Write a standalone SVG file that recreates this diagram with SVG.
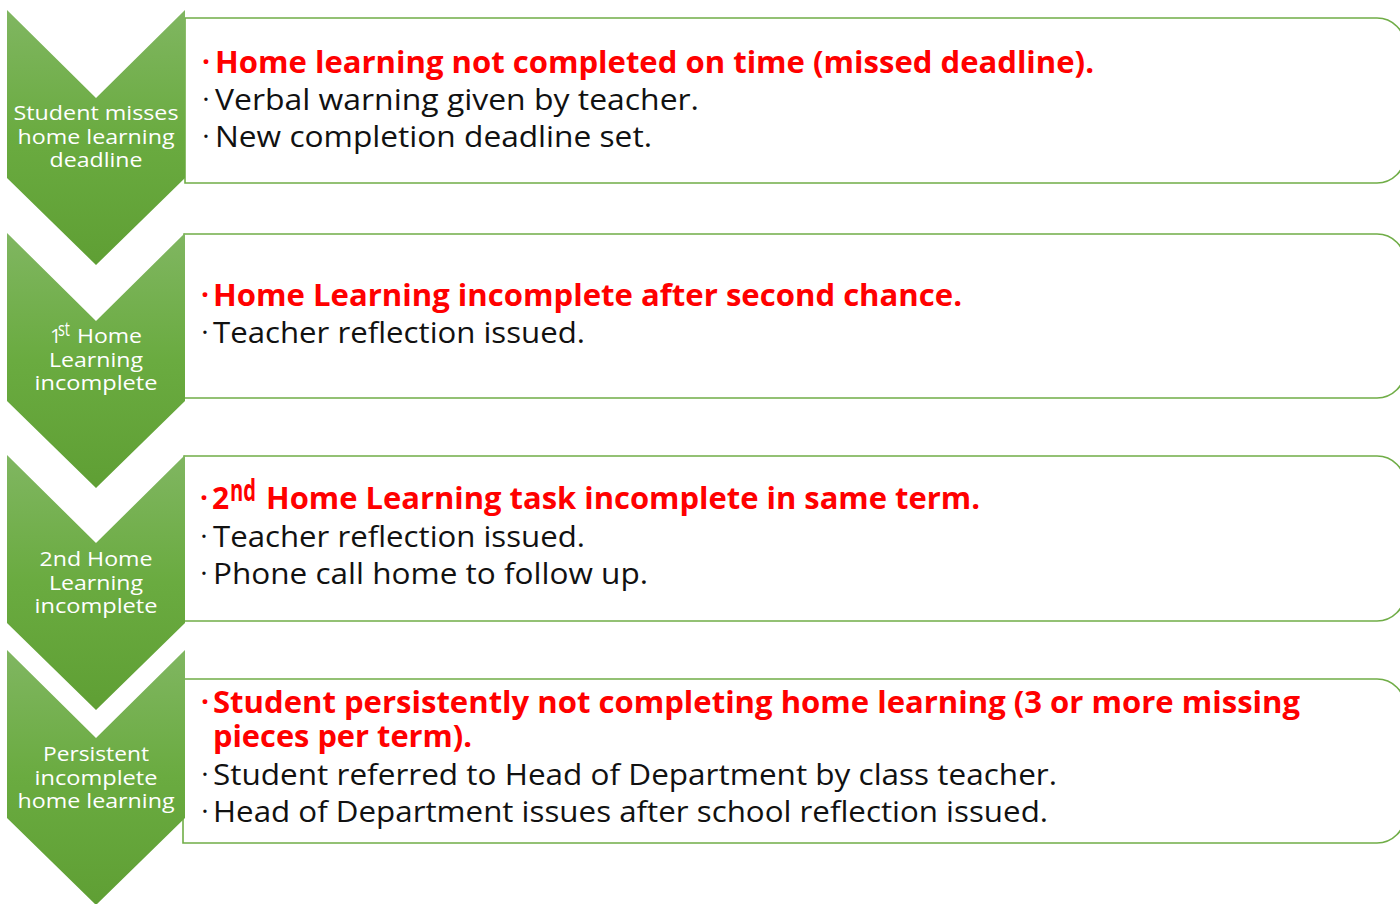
<svg xmlns="http://www.w3.org/2000/svg" width="1400" height="904" viewBox="0 0 1400 904">
  <defs>
    <linearGradient id="chevFill" x1="0" y1="0" x2="0" y2="1">
      <stop offset="0" stop-color="#80b661"/>
      <stop offset="0.5" stop-color="#6aab40"/>
      <stop offset="1" stop-color="#5f9f34"/>
    </linearGradient>
    <style>
      .box { fill: #ffffff; stroke: #70ad47; stroke-width: 1.6; }
      .chev { fill: url(#chevFill); }
      .step { font-family: "Open Sans", "Liberation Sans", sans-serif; font-size: 20px; fill: #ffffff; text-anchor: middle; }
      .step-l { font-family: "Open Sans", "Liberation Sans", sans-serif; font-size: 20px; fill: #ffffff; }
      .body { font-family: "Open Sans", "Liberation Sans", sans-serif; font-size: 29px; fill: #111111; }
      .key { font-family: "Open Sans", "Liberation Sans", sans-serif; font-size: 30px; font-weight: 700; fill: #ff0000; }
      .dot { font-family: "Open Sans", "Liberation Sans", sans-serif; font-size: 28px; text-anchor: middle; }
      .dot-key { fill: #ff0000; font-weight: 700; }
      .dot-body { fill: #111111; }
    </style>
  </defs>

  <rect width="1400" height="904" fill="#ffffff"/>

  <!-- Stage 1 -->
  <g id="stage-1">
    <path class="box" d="M185,18 H1377 A28,28 0 0 1 1405,46 V155 A28,28 0 0 1 1377,183 H185 Z"/>
    <path class="chev" d="M7,10 L96,98 L185,10 L185,178 L96,265 L7,178 Z"/>
    <text class="step" x="96" y="120" textLength="165" lengthAdjust="spacingAndGlyphs">Student misses</text>
    <text class="step" x="96" y="144" textLength="157" lengthAdjust="spacingAndGlyphs">home learning</text>
    <text class="step" x="96" y="167" textLength="93" lengthAdjust="spacingAndGlyphs">deadline</text>
    <text class="dot dot-key" x="206" y="72">·</text>
    <text class="key" x="215" y="73" textLength="879" lengthAdjust="spacingAndGlyphs">Home learning not completed on time (missed deadline).</text>
    <text class="dot dot-body" x="206" y="109">·</text>
    <text class="body" x="215" y="110" textLength="484" lengthAdjust="spacingAndGlyphs">Verbal warning given by teacher.</text>
    <text class="dot dot-body" x="206" y="146">·</text>
    <text class="body" x="215" y="147" textLength="437" lengthAdjust="spacingAndGlyphs">New completion deadline set.</text>
  </g>

  <!-- Stage 2 -->
  <g id="stage-2">
    <path class="box" d="M184,234 H1377 A28,28 0 0 1 1405,262 V370 A28,28 0 0 1 1377,398 H184 Z"/>
    <path class="chev" d="M7,233 L96,321 L185,233 L185,401 L96,488 L7,401 Z"/>
    <text class="step-l" x="50" y="343">1</text>
    <text class="step-l" x="58" y="336" font-size="13" textLength="12" lengthAdjust="spacingAndGlyphs">st</text>
    <text class="step-l" x="77" y="343" textLength="65" lengthAdjust="spacingAndGlyphs">Home</text>
    <text class="step" x="96" y="367" textLength="94" lengthAdjust="spacingAndGlyphs">Learning</text>
    <text class="step" x="96" y="390" textLength="123" lengthAdjust="spacingAndGlyphs">incomplete</text>
    <text class="dot dot-key" x="205" y="305">·</text>
    <text class="key" x="213" y="306" textLength="749" lengthAdjust="spacingAndGlyphs">Home Learning incomplete after second chance.</text>
    <text class="dot dot-body" x="205" y="342">·</text>
    <text class="body" x="213" y="343" textLength="372" lengthAdjust="spacingAndGlyphs">Teacher reflection issued.</text>
  </g>

  <!-- Stage 3 -->
  <g id="stage-3">
    <path class="box" d="M184,456 H1377 A28,28 0 0 1 1405,484 V593 A28,28 0 0 1 1377,621 H184 Z"/>
    <path class="chev" d="M7,455 L96,543 L185,455 L185,623 L96,710 L7,623 Z"/>
    <text class="step" x="96" y="566" textLength="113" lengthAdjust="spacingAndGlyphs">2nd Home</text>
    <text class="step" x="96" y="590" textLength="94" lengthAdjust="spacingAndGlyphs">Learning</text>
    <text class="step" x="96" y="613" textLength="123" lengthAdjust="spacingAndGlyphs">incomplete</text>
    <text class="dot dot-key" x="204" y="508">·</text>
    <text class="key" x="212" y="509">2</text>
    <text class="key" x="230" y="501" font-size="17" textLength="26" lengthAdjust="spacingAndGlyphs">nd</text>
    <text class="key" x="266" y="509" textLength="714" lengthAdjust="spacingAndGlyphs">Home Learning task incomplete in same term.</text>
    <text class="dot dot-body" x="204" y="546">·</text>
    <text class="body" x="213" y="547" textLength="372" lengthAdjust="spacingAndGlyphs">Teacher reflection issued.</text>
    <text class="dot dot-body" x="204" y="583">·</text>
    <text class="body" x="213" y="584" textLength="435" lengthAdjust="spacingAndGlyphs">Phone call home to follow up.</text>
  </g>

  <!-- Stage 4 -->
  <g id="stage-4">
    <path class="box" d="M183,679 H1377 A28,28 0 0 1 1405,707 V815 A28,28 0 0 1 1377,843 H183 Z"/>
    <path class="chev" d="M7,650 L96,738 L185,650 L185,818 L96,905 L7,818 Z"/>
    <text class="step" x="96" y="761" textLength="106" lengthAdjust="spacingAndGlyphs">Persistent</text>
    <text class="step" x="96" y="785" textLength="123" lengthAdjust="spacingAndGlyphs">incomplete</text>
    <text class="step" x="96" y="808" textLength="157" lengthAdjust="spacingAndGlyphs">home learning</text>
    <text class="dot dot-key" x="205" y="712">·</text>
    <text class="key" x="213" y="713" textLength="1087" lengthAdjust="spacingAndGlyphs">Student persistently not completing home learning (3 or more missing</text>
    <text class="key" x="213" y="747" textLength="259" lengthAdjust="spacingAndGlyphs">pieces per term).</text>
    <text class="dot dot-body" x="205" y="784">·</text>
    <text class="body" x="213" y="785" textLength="844" lengthAdjust="spacingAndGlyphs">Student referred to Head of Department by class teacher.</text>
    <text class="dot dot-body" x="205" y="821">·</text>
    <text class="body" x="213" y="822" textLength="835" lengthAdjust="spacingAndGlyphs">Head of Department issues after school reflection issued.</text>
  </g>
</svg>
